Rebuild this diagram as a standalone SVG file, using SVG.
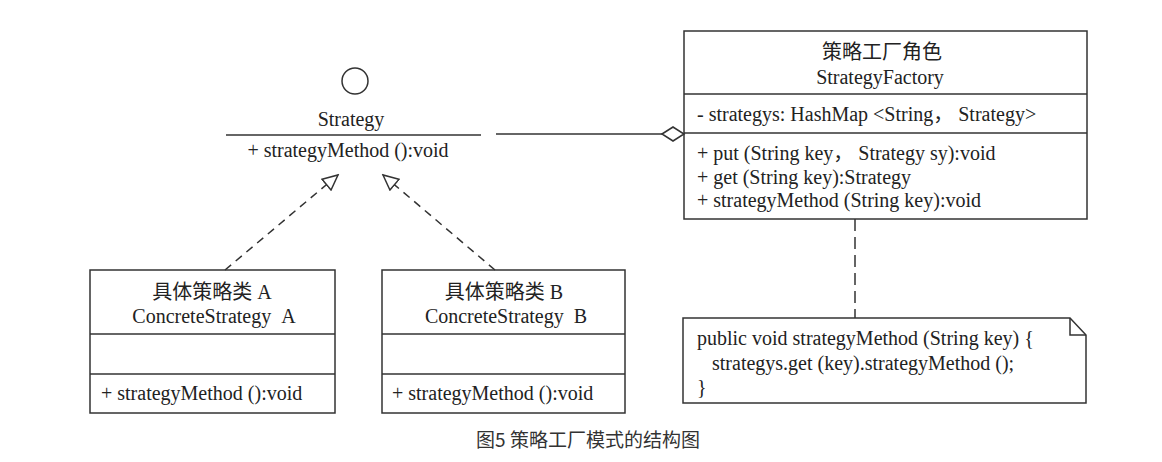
<svg xmlns="http://www.w3.org/2000/svg" width="1162" height="462" viewBox="0 0 1162 462">
<defs>
<style>
.box{fill:#fff;stroke:#333;stroke-width:1.5}
.ln{fill:none;stroke:#333;stroke-width:1.5}
.dash{fill:none;stroke:#333;stroke-width:1.5;stroke-dasharray:8,6}
.t{font-family:"Liberation Serif","Noto Sans CJK SC",serif;font-size:20px;fill:#222}
.c{text-anchor:middle}
.cap{font-family:"Noto Sans CJK SC","Liberation Sans",sans-serif;font-size:19px;fill:#333;text-anchor:middle}
</style>
<marker id="tri" markerUnits="userSpaceOnUse" markerWidth="18" markerHeight="16" viewBox="0 0 18 16" refX="16" refY="8" orient="auto">
<path d="M1,1 L16,8 L1,15 z" fill="#fff" stroke="#333" stroke-width="1.5" stroke-dasharray="none"/>
</marker>
</defs>
<rect width="1162" height="462" fill="#fff"/>

<g id="strategy">
<circle cx="355" cy="81" r="13" class="ln"/>
<text x="351" y="126" class="t c">Strategy</text>
<line x1="226" y1="135" x2="481" y2="135" class="ln"/>
<text x="348" y="157" class="t c">+ strategyMethod ():void</text>
</g>

<g id="factory">
<rect x="684" y="31" width="403" height="188" class="box"/>
<line x1="684" y1="94" x2="1087" y2="94" class="ln"/>
<line x1="684" y1="133" x2="1087" y2="133" class="ln"/>
<text x="882" y="59" class="t c">策略工厂角色</text>
<text x="880" y="84" class="t c">StrategyFactory</text>
<text x="697" y="121" class="t">- strategys: HashMap &lt;String， Strategy&gt;</text>
<text x="697" y="160" class="t">+ put (String key， Strategy sy):void</text>
<text x="697" y="184" class="t">+ get (String key):Strategy</text>
<text x="697" y="207" class="t">+ strategyMethod (String key):void</text>
</g>

<g id="concreteA">
<rect x="90" y="270" width="245" height="143" class="box"/>
<line x1="90" y1="334" x2="335" y2="334" class="ln"/>
<line x1="90" y1="374" x2="335" y2="374" class="ln"/>
<text x="212" y="299" class="t c">具体策略类 A</text>
<text x="214" y="323" class="t c">ConcreteStrategy&#160;&#160;A</text>
<text x="101" y="400" class="t">+ strategyMethod ():void</text>
</g>

<g id="concreteB">
<rect x="382" y="270" width="243" height="143" class="box"/>
<line x1="382" y1="334" x2="625" y2="334" class="ln"/>
<line x1="382" y1="374" x2="625" y2="374" class="ln"/>
<text x="504" y="299" class="t c">具体策略类 B</text>
<text x="506" y="323" class="t c">ConcreteStrategy&#160;&#160;B</text>
<text x="392" y="400" class="t">+ strategyMethod ():void</text>
</g>

<g id="note">
<path d="M683,318 L1070,318 L1086,335 L1086,403 L683,403 Z" class="box"/>
<path d="M1070,318 L1070,335 L1086,335" class="ln"/>
<text x="697" y="345" class="t">public void strategyMethod (String key) {</text>
<text x="712" y="370" class="t">strategys.get (key).strategyMethod ();</text>
<text x="697" y="394" class="t">}</text>
</g>

<g id="connectors">
<line x1="225" y1="270" x2="338" y2="175" class="dash" marker-end="url(#tri)"/>
<line x1="495" y1="270" x2="383" y2="175" class="dash" marker-end="url(#tri)"/>
<line x1="496" y1="134" x2="662" y2="134" class="ln"/>
<path d="M662,134 L673,127 L684,134 L673,141 Z" class="box"/>
<line x1="855" y1="219" x2="855" y2="318" class="dash" style="stroke-dasharray:12,6"/>
</g>

<text x="588" y="447" class="cap">图5 策略工厂模式的结构图</text>
</svg>
